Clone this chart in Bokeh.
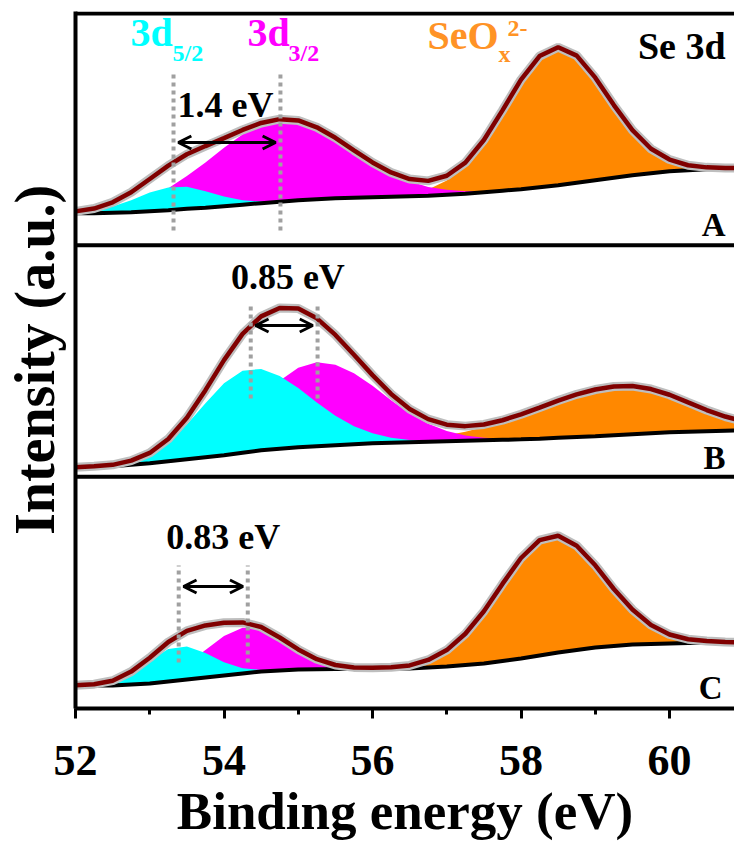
import numpy as np
from bokeh.plotting import figure
from bokeh.models import (Range1d, Span, Arrow, OpenHead, Label,
                          SingleIntervalTicker, FixedTicker)
from bokeh.embed import file_html
from bokeh.resources import INLINE

# ---------------- data ----------------
energy = [52.00, 52.25, 52.50, 52.75, 53.00, 53.25, 53.50, 53.75, 54.00, 54.25,
          54.50, 54.75, 55.00, 55.25, 55.50, 55.75, 56.00, 56.25, 56.50, 56.75,
          57.00, 57.25, 57.50, 57.75, 58.00, 58.25, 58.50, 58.75, 59.00, 59.25,
          59.50, 59.75, 60.00, 60.25, 60.50, 60.75, 61.00]

# Panel A
base_A = [32, 32, 32.5, 33, 34, 35, 36.5, 37.5, 39, 40.5, 42, 43.5, 45, 46, 47, 47.5,
          48, 48.5, 49, 49.5, 50.5, 51.5, 53, 54.5, 56, 58, 60, 62.5, 65, 67.5, 70,
          72, 74, 75, 76, 76.5, 77]
d52_A = [0.8, 2.4, 6.1, 12.0, 18.6, 22.7, 21.8, 16.4, 9.7, 4.5, 1.6, 0.5, 0.1, 0, 0,
         0, 0, 0, 0, 0, 0, 0, 0, 0, 0, 0, 0, 0, 0, 0, 0, 0, 0, 0, 0, 0, 0]
d32_A = [1.0, 2.2, 4.3, 7.9, 13.6, 21.8, 32.6, 45.2, 58.4, 70.2, 78.6, 82.0, 79.6,
         71.9, 60.4, 47.3, 34.5, 23.4, 14.8, 8.7, 4.8, 2.4, 1.1, 0.5, 0.2, 0, 0, 0,
         0, 0, 0, 0, 0, 0, 0, 0, 0]
seo_A = [0, 0, 0, 0, 0, 0, 0, 0, 0, 0, 0, 0, 0, 0, 0, 0, 0.2, 0.8, 2.3, 6.1, 14.1,
         28.6, 51.1, 79.8, 109.3, 131.1, 137.9, 127.0, 102.5, 72.6, 45.0, 24.4, 11.6,
         4.9, 1.8, 0.6, 0.2]

# Panel B
base_B = [9.5, 10, 10.5, 12, 13.5, 15.5, 17.5, 19.5, 21.5, 24, 26.5, 28, 29.5, 30.5,
          31.5, 32.5, 33.5, 34, 34.5, 35, 35.5, 36, 36.5, 37, 37.5, 38.2, 39, 39.8,
          40.5, 41.5, 42.5, 43.5, 44.5, 45, 45.5, 46, 46.5]
d52_B = [0.1, 0.4, 1.3, 3.7, 9.1, 19.2, 34.8, 54.0, 72.0, 82.2, 81.4, 72.9, 59.4,
         43.9, 29.5, 18.0, 10.0, 5.0, 2.3, 1.0, 0.4, 0.1, 0, 0, 0, 0, 0, 0, 0, 0, 0,
         0, 0, 0, 0, 0, 0]
d32_B = [0, 0.1, 0.2, 0.5, 1.3, 3.2, 6.8, 13.2, 23.2, 36.8, 52.6, 68.0, 79.5, 84.0,
         80.7, 71.1, 57.5, 42.6, 28.9, 18.0, 10.3, 5.4, 2.6, 1.1, 0.5, 0.2, 0.1, 0,
         0, 0, 0, 0, 0, 0, 0, 0, 0]
seo_B = [0, 0, 0, 0, 0, 0, 0, 0, 0, 0, 0, 0, 0, 0.1, 0.2, 0.4, 0.7, 1.3, 2.2, 3.7,
         6.0, 9.2, 13.3, 18.5, 24.5, 30.9, 37.2, 42.7, 46.8, 48.8, 48.3, 44.3, 37.6,
         29.4, 21.3, 14.3, 8.9]

# Panel C
base_C = [23, 23, 23, 24, 25, 27, 29, 31, 33, 35, 37, 38, 39, 39.3, 39.5, 39.8, 40,
          40, 40, 41, 42, 43.5, 45, 47.5, 50, 53, 56, 58.5, 61, 62.5, 64, 64.5, 65,
          65.5, 66, 66, 66]
d52_C = [0.3, 1.3, 4.6, 12.1, 23.2, 32.4, 33.0, 24.5, 13.3, 5.3, 1.5, 0.3, 0, 0, 0,
         0, 0, 0, 0, 0, 0, 0, 0, 0, 0, 0, 0, 0, 0, 0, 0, 0, 0, 0, 0, 0, 0]
d32_C = [0, 0, 0.2, 0.8, 2.6, 7.1, 15.6, 27.6, 39.5, 45.8, 43.0, 32.7, 20.1, 10.0,
         4.0, 1.3, 0.3, 0.1, 0, 0, 0, 0, 0, 0, 0, 0, 0, 0, 0, 0, 0, 0, 0, 0, 0, 0, 0]
seo_C = [0, 0, 0, 0, 0, 0, 0, 0, 0, 0, 0, 0, 0, 0, 0, 0, 0.4, 1.1, 3.1, 7.6, 16.4,
         31.2, 52.2, 77.1, 100.5, 115.4, 116.8, 104.3, 82.2, 57.0, 34.9, 18.9, 9.0,
         3.8, 1.4, 0.5, 0.1]

# peak positions (eV) marked by the dotted lines, and the splitting labels
peaks_A = [53.32, 54.76]
peaks_B = [54.36, 55.26]
peaks_C = [53.39, 54.32]
split_labels = ["1.4 eV", "0.85 eV", "0.83 eV"]
panel_names = ["A", "B", "C"]

# ---------------- styling ----------------
CYAN = "#00FFFF"
MAGENTA = "#FF00FF"
ORANGE = "#FF8800"
FIT = "#800000"
RAW = "#BEBEBE"
SERIF = "Liberation Serif"
PH = 695.0 / 3.0  # panel height in y units

p = figure(width=734, height=843, output_backend="svg", toolbar_location=None,
           x_range=Range1d(52, 60.875), y_range=Range1d(0, 697),
           min_border_left=75, min_border_right=0, min_border_top=11,
           min_border_bottom=135)
p.outline_line_color = None
p.xgrid.grid_line_color = None
p.ygrid.grid_line_color = None
p.background_fill_color = "white"

# x axis
p.xaxis.ticker = SingleIntervalTicker(interval=2, num_minor_ticks=2)
p.xaxis.axis_line_width = 4
p.xaxis.major_tick_line_width = 3
p.xaxis.minor_tick_line_width = 3
p.xaxis.major_tick_out = 10
p.xaxis.major_tick_in = 0
p.xaxis.minor_tick_out = 6
p.xaxis.minor_tick_in = 0
p.xaxis.major_label_text_font = SERIF
p.xaxis.major_label_text_font_style = "bold"
p.xaxis.major_label_text_font_size = "44px"
p.xaxis.major_label_text_color = "black"
p.xaxis.major_label_standoff = 27
p.xaxis.axis_label = "Binding energy (eV)"
p.xaxis.axis_label_text_font = SERIF
p.xaxis.axis_label_text_font_style = "bold"
p.xaxis.axis_label_text_font_size = "53px"
p.xaxis.axis_label_text_color = "black"
p.xaxis.axis_label_standoff = 4

# y axis (line and title only)
p.yaxis.ticker = FixedTicker(ticks=[])
p.yaxis.axis_line_width = 4
p.yaxis.major_tick_out = 0
p.yaxis.major_tick_in = 0
p.yaxis.major_label_standoff = 0
p.yaxis.axis_label = "Intensity (a.u.)"
p.yaxis.axis_label_text_font = SERIF
p.yaxis.axis_label_text_font_style = "bold"
p.yaxis.axis_label_text_font_size = "56px"
p.yaxis.axis_label_text_color = "black"
p.yaxis.axis_label_standoff = 10

# frame top and panel separators
for yy in [PH, 2 * PH, 695]:
    p.add_layout(Span(location=yy, dimension="width", line_color="black",
                      line_width=4))

panels = [
    (2 * PH, base_A, d52_A, d32_A, seo_A),
    (PH, base_B, d52_B, d32_B, seo_B),
    (0.0, base_C, d52_C, d32_C, seo_C),
]
for off, base, c, m, o in panels:
    b = np.array(base, dtype=float) + off
    c = np.array(c, dtype=float)
    m = np.array(m, dtype=float)
    o = np.array(o, dtype=float)
    env = b + c + m + o
    p.varea(x=energy, y1=b, y2=b + o, fill_color=ORANGE)
    p.varea(x=energy, y1=b, y2=b + m, fill_color=MAGENTA)
    p.varea(x=energy, y1=b, y2=b + c, fill_color=CYAN)
    p.line(energy, b, line_color="black", line_width=4)
    p.line(energy, env, line_color=RAW, line_width=9)
    p.line(energy, env, line_color=FIT, line_width=4.5)

# dotted peak markers and arrows
marker_spans = [(2 * PH, 14.7, 172.7, 102.7), (PH, 78.3, 174.3, 151.3),
                (0.0, 46.0, 143.0, 122.0)]
for peaks, (off, y0, y1, ya) in zip([peaks_A, peaks_B, peaks_C], marker_spans):
    p.segment(x0=peaks, y0=[off + y0] * 2, x1=peaks, y1=[off + y1] * 2,
              line_color="#A0A0A0", line_width=4, line_dash="4 4")
    p.add_layout(Arrow(start=OpenHead(size=13, line_width=3, line_color="black"),
                       end=OpenHead(size=13, line_width=3, line_color="black"),
                       x_start=peaks[0] + 0.065, y_start=off + ya,
                       x_end=peaks[1] - 0.065, y_end=off + ya,
                       line_width=3, line_color="black"))


def lab(x, y, text, size, color="black", align="left"):
    # baseline correction proportional to the font size
    p.add_layout(Label(x=x, y=y + 0.38 * size, text=text, text_font=SERIF,
                       text_font_style="bold", text_font_size=f"{size}px",
                       text_color=color, text_align=align,
                       text_baseline="alphabetic"))


# splitting labels
for text, (x, y) in zip(split_labels, [(54.02, 590), (54.86, 418), (53.99, 158)]):
    lab(x, y, text, 36, align="center")

# component labels
lab(52.741, 661, "3d", 40, CYAN)
lab(53.306, 646, "5/2", 24, CYAN)
lab(54.316, 661, "3d", 40, MAGENTA)
lab(54.869, 646, "3/2", 24, MAGENTA)
lab(56.741, 658, "SeO", 40, "#FF9326")
lab(57.697, 645, "x", 24, "#FF9326")
lab(57.818, 671, "2-", 24, "#FF9326")
lab(60.754, 648, "Se 3d", 38, align="right")

# panel letters
for name, (x, y) in zip(panel_names, [(60.754, 471), (60.754, 238), (60.714, 8)]):
    lab(x, y, name, 33, align="right")

open("out.html", "w").write(file_html(p, INLINE))
